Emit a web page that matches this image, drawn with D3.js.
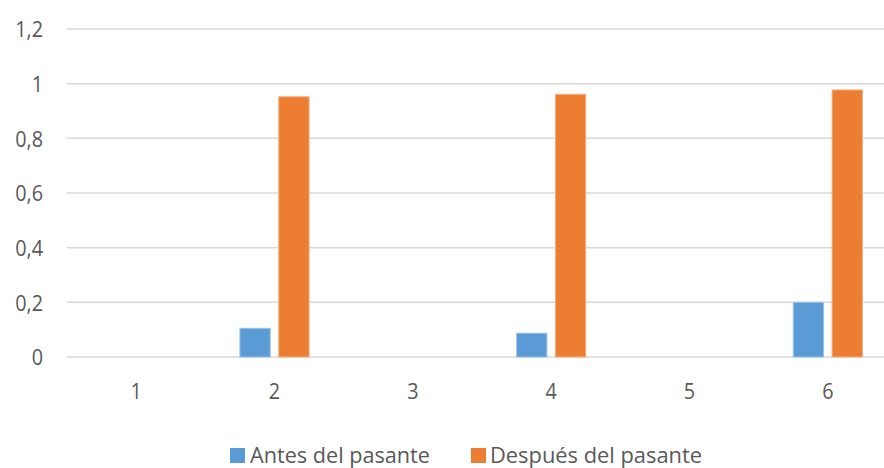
<!DOCTYPE html>
<html>
<head>
<meta charset="utf-8">
<script src="https://cdn.jsdelivr.net/npm/d3@7"></script>
<style>
  html, body { margin: 0; padding: 0; background: #fff; }
  svg { display: block; }
  text { font-family: "Open Sans", "Noto Sans", sans-serif; fill: #595959; }
</style>
</head>
<body>
<svg id="chart" width="884" height="468"></svg>
<script>
// Categories and the two series
const categories = ["1", "2", "3", "4", "5", "6"];
const seriesNames = ["Antes del pasante", "Después del pasante"];
const antes = [0, 0.105, 0, 0.087, 0, 0.2];
const despues = [0, 0.952, 0, 0.961, 0, 0.977];
const yTicks = [0, 0.2, 0.4, 0.6, 0.8, 1, 1.2];
const yTickLabels = ["0", "0,2", "0,4", "0,6", "0,8", "1", "1,2"];
const colors = ["#5B9BD5", "#ED7D31"];
const strokes = ["#9CC2E8", "#F4AE80"];

const svg = d3.select("#chart");
const W = 884, H = 468;

// The plot area runs past the right edge of the canvas
const x = d3.scaleBand().domain(categories).range([67, 897])
  .paddingInner(0.5).paddingOuter(0.25);
const xs = d3.scaleBand().domain(seriesNames).range([0, x.bandwidth()])
  .paddingInner(0.22).paddingOuter(0);
const y = d3.scaleLinear().domain([0, 1.2]).range([357, 29]);

// Gridlines
svg.append("g").selectAll("line").data(yTicks).join("line")
  .attr("x1", 67).attr("x2", W)
  .attr("y1", d => y(d)).attr("y2", d => y(d))
  .attr("stroke", "#D9D9D9").attr("stroke-width", 1.5);

// Y tick labels (slightly condensed glyphs)
svg.append("g").selectAll("text").data(yTicks).join("text")
  .attr("transform", d => `translate(43,${y(d)}) scale(0.9,1)`)
  .attr("text-anchor", "end").attr("dominant-baseline", "central")
  .attr("font-size", 22)
  .text((d, i) => yTickLabels[i]);

// X tick labels
svg.append("g").selectAll("text").data(categories).join("text")
  .attr("transform", d => `translate(${x(d) + x.bandwidth() / 2},399) scale(0.9,1)`)
  .attr("text-anchor", "middle")
  .attr("font-size", 22)
  .text(d => d);

// Bars
const rows = categories.map((c, i) => ({ cat: c, vals: [antes[i], despues[i]] }));
const groups = svg.append("g").selectAll("g").data(rows).join("g")
  .attr("transform", d => `translate(${x(d.cat)},0)`);
groups.selectAll("rect")
  .data(d => d.vals.map((v, k) => ({ v, k })).filter(e => e.v > 0))
  .join("rect")
  .attr("x", e => xs(seriesNames[e.k]))
  .attr("width", xs.bandwidth())
  .attr("y", e => y(e.v))
  .attr("height", e => y(0) - y(e.v))
  .attr("fill", e => colors[e.k])
  .attr("stroke", e => strokes[e.k])
  .attr("stroke-width", 1);

// Legend
const legendItems = [
  { name: seriesNames[0], sx: 230, tx: 250, len: 180 },
  { name: seriesNames[1], sx: 471, tx: 490, len: 212 }
];
const lg = svg.append("g");
legendItems.forEach((it, i) => {
  lg.append("rect").attr("x", it.sx).attr("y", 448).attr("width", 15).attr("height", 15)
    .attr("fill", colors[i]);
  lg.append("text").attr("x", it.tx).attr("y", 463)
    .attr("font-size", 22)
    .attr("textLength", it.len).attr("lengthAdjust", "spacingAndGlyphs")
    .text(it.name);
});
</script>
</body>
</html>
